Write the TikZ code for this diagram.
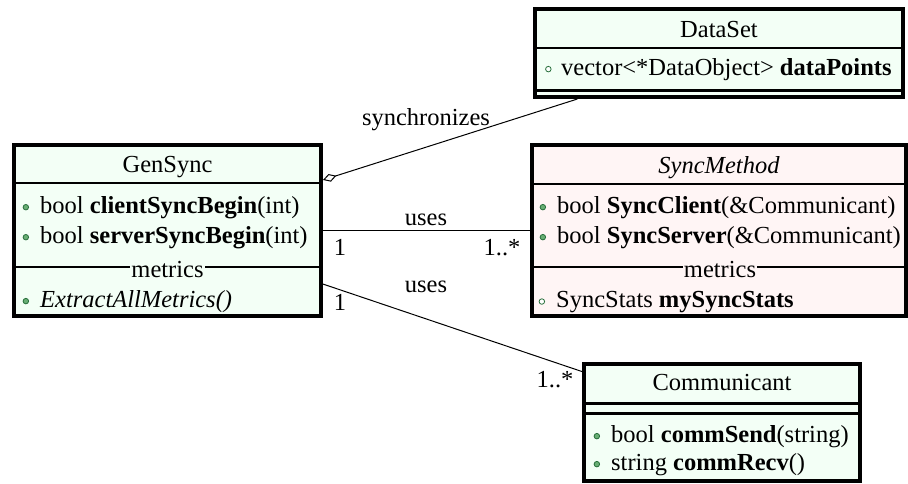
\documentclass[tikz,border=0pt]{standalone}
\usepackage{fontspec}
\setmainfont{Liberation Serif}
\usetikzlibrary{arrows.meta, positioning}
\definecolor{umlgreen}{RGB}{243, 255, 246}
\definecolor{umlpink}{RGB}{255, 245, 245}
\definecolor{dotfill}{RGB}{104, 174, 116}
\definecolor{dotline}{RGB}{38, 110, 58}

\begin{document}
\begin{tikzpicture}[x=1pt, y=-1pt,
        font=\fontsize{24.5}{29}\selectfont,
        classbox/.style={rectangle, draw=black, line width=4pt, inner sep=0pt},
        classname/.style={anchor=base, inner sep=0pt},
        member/.style={anchor=base west, inner sep=0pt},
        pubdot/.style={circle, draw=dotline, fill=dotfill, line width=0.8pt, inner sep=0pt, minimum size=5.5pt},
        privdot/.style={pubdot, fill=white},
        titlesep/.style={line width=2.5pt},
        groupsep/.style={line width=1.2pt},
        grouplabel/.style={anchor=base, inner xsep=1pt, inner ysep=0pt},
        assoc/.style={line width=1pt},
        tag/.style={anchor=base, inner sep=0pt}
    ]
    \useasboundingbox (0,0) rectangle (908,483);
    % class boxes
    \node[classbox, fill=umlgreen, minimum width=307pt, minimum height=171pt] (gensync) at (167.5,230.5) {};
    \node[classbox, fill=umlpink, minimum width=374pt, minimum height=171pt] (syncmethod) at (719,230.5) {};
    \node[classbox, fill=umlgreen, minimum width=368pt, minimum height=88pt] (dataset) at (719,53) {};
    \node[classbox, fill=umlgreen, minimum width=276pt, minimum height=117pt] (communicant) at (722,422.5) {};
    % compartments
    \draw[titlesep] (gensync.west |- 0,183) -- (gensync.east |- 0,183);
    \draw[groupsep] (gensync.west |- 0,267) -- (gensync.east |- 0,267);
    \draw[titlesep] (syncmethod.west |- 0,184) -- (syncmethod.east |- 0,184);
    \draw[groupsep] (syncmethod.west |- 0,267) -- (syncmethod.east |- 0,267);
    \draw[titlesep] (dataset.west |- 0,48) -- (dataset.east |- 0,48);
    \draw[titlesep] (dataset.west |- 0,90.5) -- (dataset.east |- 0,90.5);
    \draw[titlesep] (communicant.west |- 0,403.5) -- (communicant.east |- 0,403.5);
    \draw[titlesep] (communicant.west |- 0,413.5) -- (communicant.east |- 0,413.5);
    % GenSync
    \node[classname] (gensyncname) at (167.5,172) {GenSync};
    \node[member] (gsclient) at (40,213) {bool \textbf{clientSyncBegin}(int)};
    \node[member] (gsserver) at (40,243) {bool \textbf{serverSyncBegin}(int)};
    \node[grouplabel, fill=umlgreen] (gsmetrics) at (167.5,277) {metrics};
    \node[member] (gsextract) at (40,307) {\textit{ExtractAllMetrics()}};
    \node[pubdot, left=11pt of gsclient] (gsdot1) {};
    \node[pubdot, left=11pt of gsserver] (gsdot2) {};
    \node[pubdot, left=11pt of gsextract] (gsdot3) {};
    % SyncMethod
    \node[classname] (syncmethodname) at (719,173) {\textit{SyncMethod}};
    \node[member] (smclient) at (557,213) {bool \textbf{SyncClient}(\&Communicant)};
    \node[member] (smserver) at (557,243) {bool \textbf{SyncServer}(\&Communicant)};
    \node[grouplabel, fill=umlpink] (smmetrics) at (720,277) {metrics};
    \node[member] (smstats) at (556,307) {SyncStats \textbf{mySyncStats}};
    \node[pubdot, left=11pt of smclient] (smdot1) {};
    \node[pubdot, left=11pt of smserver] (smdot2) {};
    \node[privdot, left=11pt of smstats] (smdot3) {};
    % DataSet
    \node[classname] (datasetname) at (719,37) {DataSet};
    \node[member] (dspoints) at (561,75) {vector<*DataObject> \textbf{dataPoints}};
    \node[privdot, left=9.5pt of dspoints] (dsdot1) {};
    % Communicant
    \node[classname] (communicantname) at (722,390) {Communicant};
    \node[member] (cmsend) at (611,442) {bool \textbf{commSend}(string)};
    \node[member] (cmrecv) at (611,470) {string \textbf{commRecv}()};
    \node[pubdot, left=11pt of cmsend] (cmdot1) {};
    \node[pubdot, left=11pt of cmrecv] (cmdot2) {};
    % associations
    \draw[assoc, {Diamond[open, length=14pt, width=8pt]}-] (gensync.18.5) -- (dataset.198.1);
    \draw[assoc] (gensync) -- (syncmethod);
    \draw[assoc] (gensync.-19) -- (communicant.160.4);
    \node[tag] (synclabel) at (426,125) {synchronizes};
    \node[tag] (useslabel) at (426,225) {uses};
    \node[tag] (usesmult1) at (340,255) {1};
    \node[tag] (usesmult2) at (502,255) {1..*};
    \node[tag] (commlabel) at (426,292) {uses};
    \node[tag] (commmult1) at (340,310) {1};
    \node[tag] (commmult2) at (555,387) {1..*};
\end{tikzpicture}
\end{document}
